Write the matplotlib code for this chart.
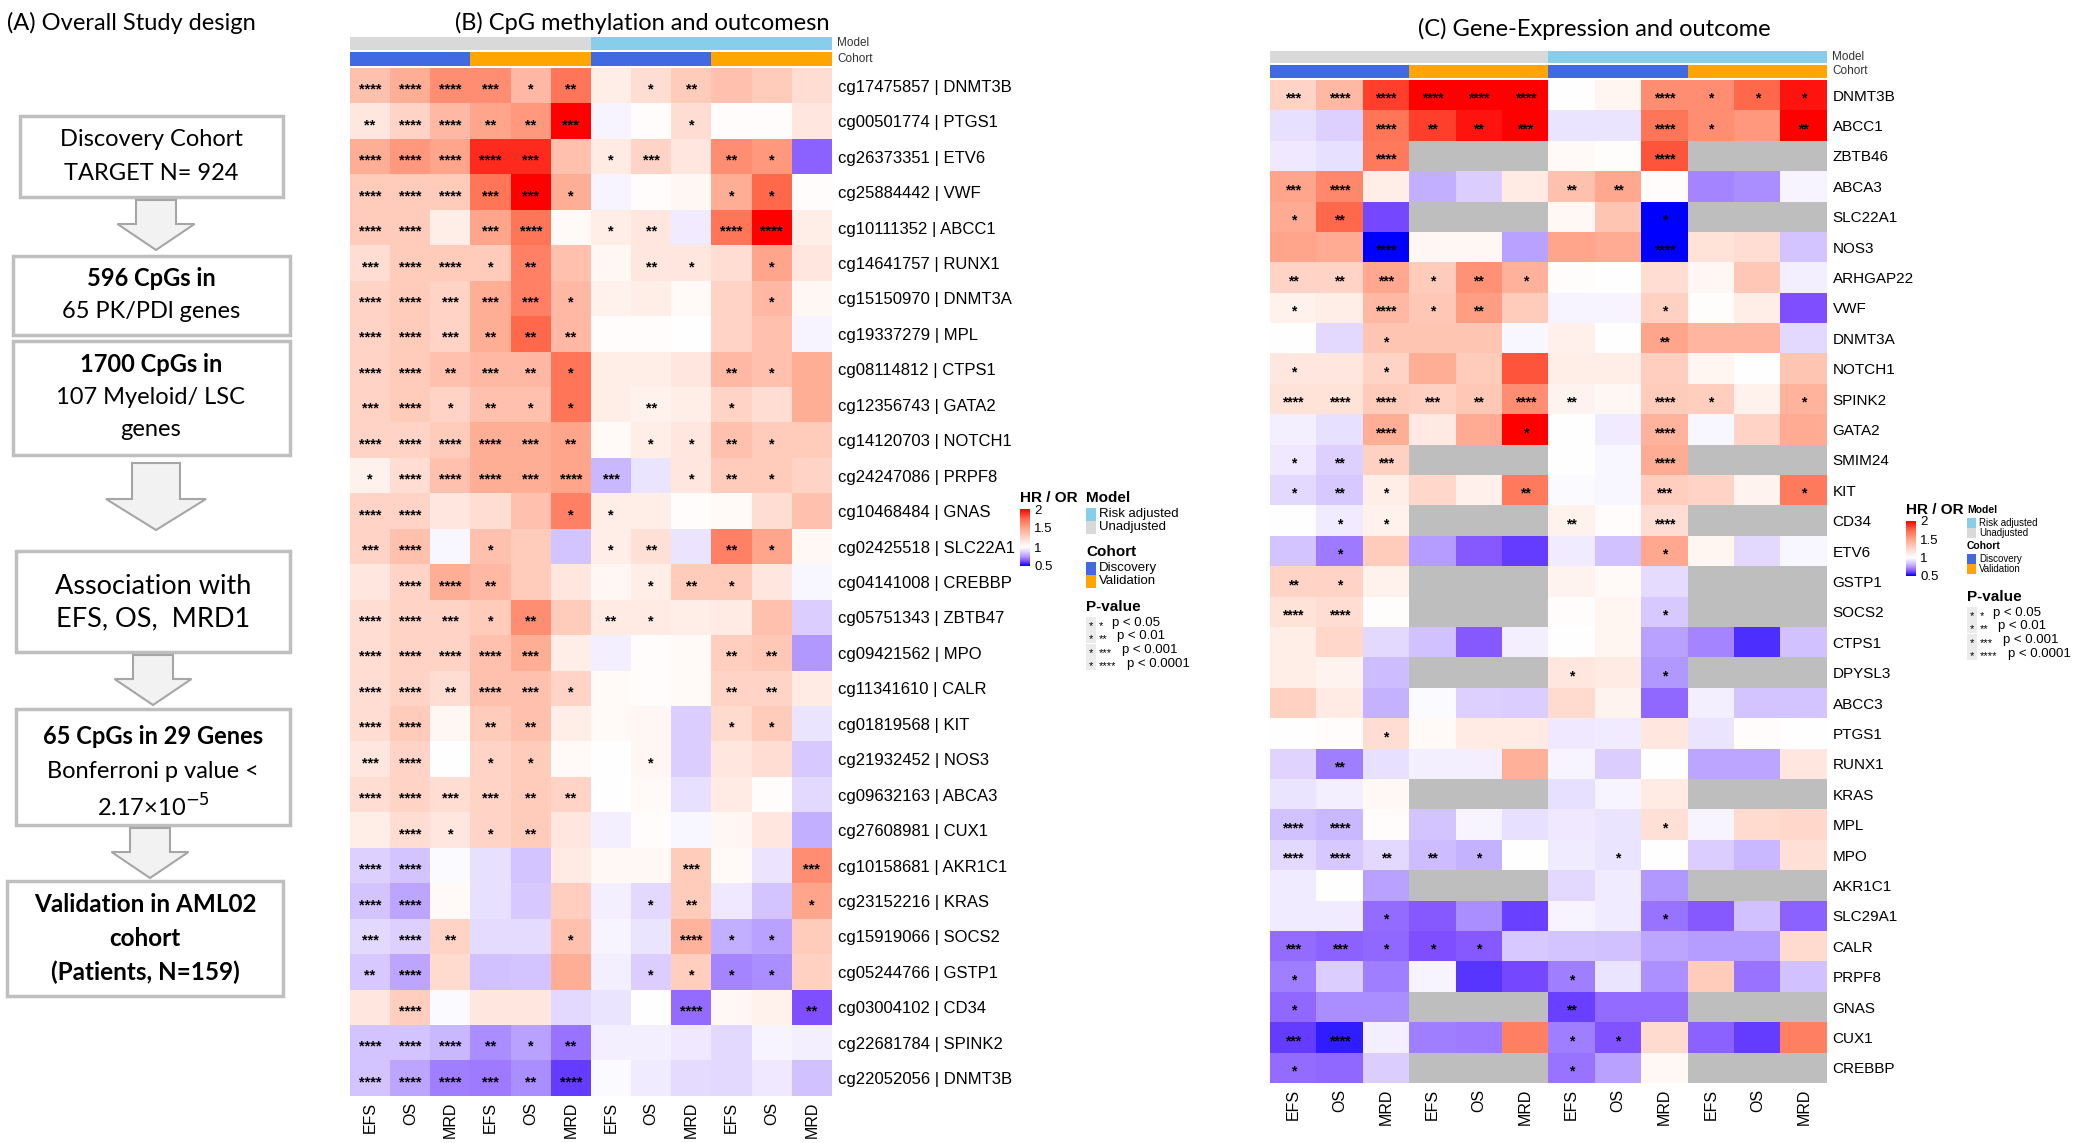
import numpy as np
import matplotlib
matplotlib.use("Agg")
import matplotlib.pyplot as plt
from matplotlib.colors import LinearSegmentedColormap, Normalize, ListedColormap
from matplotlib.patches import Rectangle, FancyArrow
from matplotlib.transforms import offset_copy
import matplotlib.cm as cm

W, H = 2076, 1143
plt.rcParams['font.family'] = ['Liberation Sans', 'DejaVu Sans']
nan = np.nan

# ---- data -------------------------------------------------------------
outcomes = ["EFS", "OS", "MRD"] * 4
model_groups = ["Unadjusted"] * 6 + ["Risk adjusted"] * 6
cohort_groups = (["Discovery"] * 3 + ["Validation"] * 3) * 2

b_rows = ["cg17475857 | DNMT3B", "cg00501774 | PTGS1", "cg26373351 | ETV6",
          "cg25884442 | VWF", "cg10111352 | ABCC1", "cg14641757 | RUNX1",
          "cg15150970 | DNMT3A", "cg19337279 | MPL", "cg08114812 | CTPS1",
          "cg12356743 | GATA2", "cg14120703 | NOTCH1", "cg24247086 | PRPF8",
          "cg10468484 | GNAS", "cg02425518 | SLC22A1", "cg04141008 | CREBBP",
          "cg05751343 | ZBTB47", "cg09421562 | MPO", "cg11341610 | CALR",
          "cg01819568 | KIT", "cg21932452 | NOS3", "cg09632163 | ABCA3",
          "cg27608981 | CUX1", "cg10158681 | AKR1C1", "cg23152216 | KRAS",
          "cg15919066 | SOCS2", "cg05244766 | GSTP1", "cg03004102 | CD34",
          "cg22681784 | SPINK2", "cg22052056 | DNMT3B"]

b_hr = [
    [1.35, 1.45, 1.60, 1.60, 1.40, 1.70, 1.10, 1.20, 1.30, 1.35, 1.30, 1.20],
    [1.15, 1.25, 1.40, 1.50, 1.55, 2.00, 0.97, 1.02, 1.20, 1.02, 1.02, 1.15],
    [1.45, 1.55, 1.50, 1.90, 1.90, 1.35, 1.12, 1.25, 1.15, 1.60, 1.55, 0.66],
    [1.30, 1.30, 1.30, 1.70, 2.00, 1.45, 0.97, 1.02, 1.05, 1.45, 1.75, 1.02],
    [1.30, 1.30, 1.10, 1.50, 1.70, 1.03, 1.10, 1.15, 0.95, 1.70, 2.00, 1.10],
    [1.20, 1.30, 1.30, 1.30, 1.65, 1.35, 1.05, 1.15, 1.15, 1.20, 1.50, 1.15],
    [1.25, 1.30, 1.25, 1.45, 1.65, 1.40, 1.08, 1.10, 1.03, 1.25, 1.40, 1.05],
    [1.25, 1.30, 1.25, 1.45, 1.75, 1.40, 1.02, 1.02, 1.00, 1.25, 1.35, 0.97],
    [1.25, 1.30, 1.35, 1.40, 1.40, 1.70, 1.10, 1.10, 1.15, 1.40, 1.35, 1.45],
    [1.25, 1.30, 1.25, 1.35, 1.35, 1.70, 1.10, 1.08, 1.10, 1.25, 1.20, 1.45],
    [1.25, 1.25, 1.30, 1.45, 1.45, 1.50, 1.03, 1.10, 1.15, 1.35, 1.30, 1.30],
    [1.08, 1.20, 1.35, 1.45, 1.45, 1.50, 0.82, 0.93, 1.15, 1.30, 1.30, 1.25],
    [1.25, 1.25, 1.15, 1.20, 1.35, 1.65, 1.10, 1.10, 1.02, 1.03, 1.20, 1.35],
    [1.25, 1.35, 0.98, 1.35, 1.30, 0.85, 1.10, 1.18, 0.93, 1.65, 1.50, 1.04],
    [1.15, 1.25, 1.45, 1.40, 1.30, 1.15, 1.05, 1.10, 1.30, 1.30, 1.15, 0.98],
    [1.20, 1.25, 1.25, 1.30, 1.60, 1.30, 1.12, 1.12, 1.10, 1.12, 1.35, 0.87],
    [1.20, 1.25, 1.25, 1.35, 1.45, 1.10, 0.96, 1.02, 1.03, 1.28, 1.32, 0.75],
    [1.20, 1.25, 1.20, 1.35, 1.35, 1.25, 1.03, 1.02, 1.03, 1.25, 1.25, 1.12],
    [1.20, 1.30, 1.05, 1.30, 1.35, 1.10, 1.03, 1.05, 0.87, 1.22, 1.30, 0.93],
    [1.15, 1.25, 1.00, 1.25, 1.30, 1.03, 1.00, 1.05, 0.87, 1.15, 1.20, 0.86],
    [1.20, 1.25, 1.20, 1.25, 1.30, 1.25, 1.00, 1.03, 0.92, 1.12, 1.02, 0.90],
    [1.10, 1.20, 1.15, 1.25, 1.30, 1.15, 0.96, 1.02, 0.98, 1.05, 1.15, 0.80],
    [0.88, 0.85, 0.99, 0.92, 0.85, 1.12, 1.04, 1.04, 1.30, 1.03, 0.93, 1.60],
    [0.85, 0.78, 1.03, 0.92, 0.86, 1.28, 0.96, 0.90, 1.30, 0.94, 0.85, 1.50],
    [0.90, 0.88, 1.25, 0.91, 0.91, 1.35, 0.97, 0.93, 1.42, 0.80, 0.77, 1.30],
    [0.86, 0.78, 1.22, 0.84, 0.85, 1.45, 0.96, 0.87, 1.28, 0.72, 0.73, 1.27],
    [1.15, 1.28, 0.99, 1.15, 1.15, 0.90, 0.93, 1.00, 0.68, 1.04, 1.08, 0.63],
    [0.85, 0.85, 0.82, 0.73, 0.77, 0.69, 0.96, 0.96, 0.94, 0.90, 0.97, 0.96],
    [0.85, 0.78, 0.71, 0.70, 0.73, 0.60, 0.99, 0.95, 0.91, 0.90, 0.94, 0.84],
]

# number of stars (0 = not significant)
b_sig = [
    [4, 4, 4, 3, 1, 2, 0, 1, 2, 0, 0, 0],
    [2, 4, 4, 2, 2, 3, 0, 0, 1, 0, 0, 0],
    [4, 4, 4, 4, 3, 0, 1, 3, 0, 2, 1, 0],
    [4, 4, 4, 3, 3, 1, 0, 0, 0, 1, 1, 0],
    [4, 4, 0, 3, 4, 0, 1, 2, 0, 4, 4, 0],
    [3, 4, 4, 1, 2, 0, 0, 2, 1, 0, 1, 0],
    [4, 4, 3, 3, 3, 1, 0, 0, 0, 0, 1, 0],
    [4, 4, 3, 2, 2, 2, 0, 0, 0, 0, 0, 0],
    [4, 4, 2, 3, 2, 1, 0, 0, 0, 2, 1, 0],
    [3, 4, 1, 2, 1, 1, 0, 2, 0, 1, 0, 0],
    [4, 4, 4, 4, 3, 2, 0, 1, 1, 2, 1, 0],
    [1, 4, 4, 4, 3, 4, 3, 0, 1, 2, 1, 0],
    [4, 4, 0, 0, 0, 1, 1, 0, 0, 0, 0, 0],
    [3, 4, 0, 1, 0, 0, 1, 2, 0, 2, 1, 0],
    [0, 4, 4, 2, 0, 0, 0, 1, 2, 1, 0, 0],
    [4, 4, 3, 1, 2, 0, 2, 1, 0, 0, 0, 0],
    [4, 4, 4, 4, 3, 0, 0, 0, 0, 2, 2, 0],
    [4, 4, 2, 4, 3, 1, 0, 0, 0, 2, 2, 0],
    [4, 4, 0, 2, 2, 0, 0, 0, 0, 1, 1, 0],
    [3, 4, 0, 1, 1, 0, 0, 1, 0, 0, 0, 0],
    [4, 4, 3, 3, 2, 2, 0, 0, 0, 0, 0, 0],
    [0, 4, 1, 1, 2, 0, 0, 0, 0, 0, 0, 0],
    [4, 4, 0, 0, 0, 0, 0, 0, 3, 0, 0, 3],
    [4, 4, 0, 0, 0, 0, 0, 1, 2, 0, 0, 1],
    [3, 4, 2, 0, 0, 1, 0, 0, 4, 1, 1, 0],
    [2, 4, 0, 0, 0, 0, 0, 1, 1, 1, 1, 0],
    [0, 4, 0, 0, 0, 0, 0, 0, 4, 0, 0, 2],
    [4, 4, 4, 2, 1, 2, 0, 0, 0, 0, 0, 0],
    [4, 4, 4, 3, 2, 4, 0, 0, 0, 0, 0, 0],
]

c_rows = ["DNMT3B", "ABCC1", "ZBTB46", "ABCA3", "SLC22A1", "NOS3", "ARHGAP22",
          "VWF", "DNMT3A", "NOTCH1", "SPINK2", "GATA2", "SMIM24", "KIT", "CD34",
          "ETV6", "GSTP1", "SOCS2", "CTPS1", "DPYSL3", "ABCC3", "PTGS1", "RUNX1",
          "KRAS", "MPL", "MPO", "AKR1C1", "SLC29A1", "CALR", "PRPF8", "GNAS",
          "CUX1", "CREBBP"]

c_hr = [
    [1.25, 1.40, 1.85, 2.00, 2.00, 2.00, 1.00, 1.06, 1.60, 1.60, 1.75, 1.95],
    [0.92, 0.88, 1.70, 1.85, 1.95, 2.00, 0.93, 0.93, 1.70, 1.60, 1.55, 2.00],
    [0.94, 0.92, 1.68, nan, nan, nan, 1.03, 1.01, 1.80, nan, nan, nan],
    [1.50, 1.62, 1.10, 0.80, 0.87, 1.12, 1.35, 1.48, 1.02, 0.72, 0.73, 0.97],
    [1.47, 1.75, 0.62, nan, nan, nan, 1.04, 1.33, 0.50, nan, nan, nan],
    [1.50, 1.47, 0.50, 1.05, 1.05, 0.77, 1.50, 1.47, 0.50, 1.17, 1.20, 0.85],
    [1.25, 1.25, 1.48, 1.30, 1.58, 1.43, 1.01, 1.00, 1.20, 1.05, 1.32, 0.96],
    [1.08, 1.10, 1.40, 1.32, 1.53, 1.30, 0.97, 0.97, 1.27, 1.01, 1.10, 0.63],
    [1.00, 0.90, 1.33, 1.33, 1.33, 0.98, 1.09, 1.00, 1.50, 1.41, 1.41, 0.90],
    [1.15, 1.15, 1.25, 1.45, 1.30, 1.80, 1.10, 1.10, 1.28, 1.06, 1.00, 1.33],
    [1.17, 1.17, 1.30, 1.27, 1.32, 1.60, 1.07, 1.05, 1.30, 1.28, 1.08, 1.42],
    [0.96, 0.92, 1.45, 1.13, 1.47, 2.00, 1.00, 0.95, 1.42, 0.98, 1.25, 1.47],
    [0.94, 0.88, 1.27, nan, nan, nan, 1.00, 0.98, 1.46, nan, nan, nan],
    [0.90, 0.86, 1.10, 1.23, 1.09, 1.68, 0.99, 0.98, 1.28, 1.25, 1.07, 1.68],
    [1.00, 0.95, 1.08, nan, nan, nan, 1.08, 1.02, 1.20, nan, nan, nan],
    [0.85, 0.70, 1.30, 0.76, 0.65, 0.60, 0.95, 0.84, 1.48, 1.06, 0.90, 0.98],
    [1.25, 1.25, 1.08, nan, nan, nan, 1.07, 1.03, 0.91, nan, nan, nan],
    [1.17, 1.20, 1.01, nan, nan, nan, 1.02, 1.06, 0.86, nan, nan, nan],
    [1.10, 1.23, 0.90, 0.84, 0.65, 0.96, 1.00, 1.06, 0.77, 0.72, 0.58, 0.84],
    [1.10, 1.07, 0.83, nan, nan, nan, 1.15, 1.12, 0.75, nan, nan, nan],
    [1.27, 1.12, 0.81, 0.99, 0.88, 0.87, 1.22, 1.07, 0.67, 0.96, 0.85, 0.85],
    [1.00, 1.02, 1.20, 1.03, 1.12, 1.12, 0.94, 0.95, 1.15, 0.93, 1.02, 1.00],
    [0.89, 0.71, 0.92, 0.96, 0.96, 1.44, 0.97, 0.87, 1.00, 0.78, 0.78, 1.15],
    [0.93, 0.96, 1.04, nan, nan, nan, 0.92, 0.97, 1.12, nan, nan, nan],
    [0.84, 0.82, 1.02, 0.85, 0.97, 0.92, 0.94, 0.93, 1.18, 0.97, 1.22, 1.23],
    [0.90, 0.86, 0.90, 0.83, 0.81, 1.00, 0.95, 0.93, 1.00, 0.87, 0.82, 1.18],
    [0.95, 1.00, 0.77, nan, nan, nan, 0.90, 0.95, 0.75, nan, nan, nan],
    [0.95, 0.95, 0.68, 0.65, 0.73, 0.61, 0.97, 0.95, 0.69, 0.65, 0.84, 0.66],
    [0.68, 0.66, 0.67, 0.63, 0.65, 0.86, 0.85, 0.84, 0.78, 0.76, 0.76, 1.22],
    [0.71, 0.87, 0.71, 0.97, 0.59, 0.62, 0.71, 0.93, 0.74, 1.30, 0.69, 0.84],
    [0.67, 0.73, 0.73, nan, nan, nan, 0.61, 0.68, 0.68, nan, nan, nan],
    [0.60, 0.55, 0.96, 0.71, 0.70, 1.66, 0.71, 0.64, 1.22, 0.66, 0.60, 1.66],
    [0.68, 0.67, 0.87, nan, nan, nan, 0.69, 0.77, 1.04, nan, nan, nan],
]

c_sig = [
    [3, 4, 4, 4, 4, 4, 0, 0, 4, 1, 1, 1],
    [0, 0, 4, 2, 2, 3, 0, 0, 4, 1, 0, 2],
    [0, 0, 4, 0, 0, 0, 0, 0, 4, 0, 0, 0],
    [3, 4, 0, 0, 0, 0, 2, 2, 0, 0, 0, 0],
    [1, 2, 0, 0, 0, 0, 0, 0, 1, 0, 0, 0],
    [0, 0, 4, 0, 0, 0, 0, 0, 4, 0, 0, 0],
    [2, 2, 3, 1, 2, 1, 0, 0, 0, 0, 0, 0],
    [1, 0, 4, 1, 2, 0, 0, 0, 1, 0, 0, 0],
    [0, 0, 1, 0, 0, 0, 0, 0, 2, 0, 0, 0],
    [1, 0, 1, 0, 0, 0, 0, 0, 0, 0, 0, 0],
    [4, 4, 4, 3, 2, 4, 2, 0, 4, 1, 0, 1],
    [0, 0, 4, 0, 0, 1, 0, 0, 4, 0, 0, 0],
    [1, 2, 3, 0, 0, 0, 0, 0, 4, 0, 0, 0],
    [1, 2, 1, 0, 0, 2, 0, 0, 3, 0, 0, 1],
    [0, 1, 1, 0, 0, 0, 2, 0, 4, 0, 0, 0],
    [0, 1, 0, 0, 0, 0, 0, 0, 1, 0, 0, 0],
    [2, 1, 0, 0, 0, 0, 0, 0, 0, 0, 0, 0],
    [4, 4, 0, 0, 0, 0, 0, 0, 1, 0, 0, 0],
    [0, 0, 0, 0, 0, 0, 0, 0, 0, 0, 0, 0],
    [0, 0, 0, 0, 0, 0, 1, 0, 1, 0, 0, 0],
    [0, 0, 0, 0, 0, 0, 0, 0, 0, 0, 0, 0],
    [0, 0, 1, 0, 0, 0, 0, 0, 0, 0, 0, 0],
    [0, 2, 0, 0, 0, 0, 0, 0, 0, 0, 0, 0],
    [0, 0, 0, 0, 0, 0, 0, 0, 0, 0, 0, 0],
    [4, 4, 0, 0, 0, 0, 0, 0, 1, 0, 0, 0],
    [4, 4, 2, 2, 1, 0, 0, 1, 0, 0, 0, 0],
    [0, 0, 0, 0, 0, 0, 0, 0, 0, 0, 0, 0],
    [0, 0, 1, 0, 0, 0, 0, 0, 1, 0, 0, 0],
    [3, 3, 1, 1, 1, 0, 0, 0, 0, 0, 0, 0],
    [1, 0, 0, 0, 0, 0, 1, 0, 0, 0, 0, 0],
    [1, 0, 0, 0, 0, 0, 2, 0, 0, 0, 0, 0],
    [3, 4, 0, 0, 0, 0, 1, 1, 0, 0, 0, 0],
    [1, 0, 0, 0, 0, 0, 1, 0, 0, 0, 0, 0],
]

p_levels = ["0.05", "0.01", "0.001", "0.0001"]
hr_ticks = [0.5, 1, 1.5, 2]

# ---- styling ----------------------------------------------------------
model_colors = {"Risk adjusted": "#87CEEB", "Unadjusted": "#D9D9D9"}
cohort_colors = {"Discovery": "#4169E1", "Validation": "#FFA500"}

hr_cmap = LinearSegmentedColormap.from_list("hr", [
    (0.0, "#0000FF"), (0.0833, "#7D4CFF"), (0.1667, "#B39AFF"),
    (0.25, "#DDD0FF"), (0.3333, "#FFFFFF"), (0.5, "#FFD5C7"),
    (0.6667, "#FFA58B"), (0.8333, "#FF6A4C"), (1.0, "#FF0000")])
hr_cmap.set_bad("#BEBEBE")
hr_norm = Normalize(0.5, 2.0)

fig = plt.figure(figsize=(W / 100, H / 100), dpi=100)
bg = fig.add_axes([0, 0, 1, 1])
bg.set_xlim(0, W)
bg.set_ylim(H, 0)
bg.axis("off")


def px_axes(left, top, width, height):
    return fig.add_axes([left / W, 1 - (top + height) / H, width / W, height / H])


def anno_bar(left, top, width, height, groups, colors):
    ax = px_axes(left, top, width, height)
    keys = list(colors)
    codes = [[keys.index(g) for g in groups]]
    ax.imshow(codes, cmap=ListedColormap([colors[k] for k in keys]),
              vmin=-0.5, vmax=len(keys) - 0.5, aspect="auto",
              interpolation="nearest", extent=(0, len(groups), 1, 0))
    ax.axis("off")
    return ax


def heatmap(left, top, right, bottom, vals, sig, rows, bars, row_fs, star_fs, col_fs):
    vals = np.array(vals, dtype=float)
    nr, nc = vals.shape
    ax = px_axes(left, top, right - left, bottom - top)
    ax.imshow(np.ma.masked_invalid(vals), cmap=hr_cmap, norm=hr_norm,
              aspect="auto", interpolation="nearest", extent=(0, nc, nr, 0))
    tr = offset_copy(ax.transData, fig=fig, y=-0.55 * star_fs, units="points")
    for i, srow in enumerate(sig):
        for j, n in enumerate(srow):
            if n:
                ax.text(j + 0.5, i + 0.5, "*" * n, ha="center", va="baseline",
                        fontsize=star_fs, fontweight="bold", transform=tr)
    ax.set_xticks(np.arange(nc) + 0.5, outcomes, rotation=90, fontsize=col_fs)
    ax.yaxis.tick_right()
    ax.set_yticks(np.arange(nr) + 0.5, rows, fontsize=row_fs)
    ax.tick_params(length=0, pad=4)
    for s in ax.spines.values():
        s.set_visible(False)
    (mt, mh), (ct, ch) = bars
    anno_bar(left, mt, right - left, mh, model_groups, model_colors)
    anno_bar(left, ct, right - left, ch, cohort_groups, cohort_colors)
    bg.text(right + 5, mt + mh / 2, "Model", fontsize=8.5, va="center", color="#333333")
    bg.text(right + 5, ct + ch / 2, "Cohort", fontsize=8.5, va="center", color="#333333")


def legend(xc, xg, y_title, cb_top, cb_bot, grp_y, p_y, small_fs, small_title_fs, key_w, key_h):
    bg.text(xc, y_title, "HR / OR", fontsize=11, fontweight="bold", va="center")
    cax = px_axes(xc, cb_top, 10, cb_bot - cb_top)
    cb = fig.colorbar(cm.ScalarMappable(norm=hr_norm, cmap=hr_cmap), cax=cax, ticks=hr_ticks)
    cb.ax.set_yticklabels([f"{t:g}" for t in hr_ticks])
    cb.outline.set_visible(False)
    cb.ax.tick_params(length=0, labelsize=9.5, pad=3)
    for title, colors, y0 in [("Model", model_colors, grp_y[0]), ("Cohort", cohort_colors, grp_y[1])]:
        bg.text(xg, y0, title, fontsize=small_title_fs, fontweight="bold", va="center")
        for k, (name, col) in enumerate(colors.items()):
            yy = y0 + (k + 1) * key_h + 3
            bg.add_patch(Rectangle((xg, yy - key_h / 2), key_w, key_h, fc=col, ec="none"))
            bg.text(xg + key_w + 3, yy, name, fontsize=small_fs, va="center")
    bg.text(xg, p_y, "P-value", fontsize=11, fontweight="bold", va="center")
    for k, lvl in enumerate(p_levels):
        yy = p_y + 16 + k * 13.5
        bg.add_patch(Rectangle((xg, yy - 6.5), 10, 13, fc="#EBEBEB", ec="none"))
        bg.text(xg + 5, yy + 3, "*", fontsize=8, ha="center", va="center")
        bg.text(xg + 13, yy + 3, "*" * (k + 1), fontsize=8, va="center")
        bg.text(xg + 13 + 5 * (k + 1) + 8, yy, f"p < {lvl}", fontsize=9.5, va="center")


# ---- panel A: study design --------------------------------------------
A_FONT = ["Lato", "DejaVu Sans"]
box_ec = "#BFBFBF"
arrow_fc, arrow_ec = "#F2F2F2", "#A6A6A6"

bg.text(7, 23, "(A) Overall Study design", fontsize=17, family=A_FONT, va="center")

boxes = [(20, 116, 263, 81), (13, 256, 277, 79), (13, 341, 277, 114),
         (16, 551, 274, 101), (16, 709, 274, 116), (7, 881, 276, 115)]
for x, y, w, h in boxes:
    bg.add_patch(Rectangle((x, y), w, h, fc="white", ec=box_ec, lw=2.5))

arrows = [(156, 200, 50, 40, 77, 26), (156, 463, 67, 48, 100, 31),
          (153, 655, 50, 40, 77, 26), (150, 828, 50, 40, 77, 26)]
for x, y, ln, sw, hw, hl in arrows:
    bg.add_patch(FancyArrow(x, y, 0, ln, width=sw, head_width=hw, head_length=hl,
                            length_includes_head=True, fc=arrow_fc, ec=arrow_ec, lw=1.5))

box_lines = [
    (151, 140, "Discovery Cohort", "normal", 17),
    (151, 173, "TARGET N= 924", "normal", 17),
    (151, 278, "596 CpGs in", "bold", 17),
    (151, 311, "65 PK/PDl genes", "normal", 17),
    (151, 365, "1700 CpGs in", "bold", 17),
    (151, 398, "107 Myeloid/ LSC", "normal", 17),
    (151, 430, "genes", "normal", 17),
    (153, 586, "Association with", "normal", 19.5),
    (153, 619, "EFS, OS,  MRD1", "normal", 19.5),
    (153, 736, "65 CpGs in 29 Genes", "bold", 17),
    (153, 772, "Bonferroni p value <", "normal", 17),
    (153, 807, "2.17×10$^{-5}$", "normal", 17),
    (145, 905, "Validation in AML02", "bold", 17.5),
    (145, 938, "cohort", "bold", 17.5),
    (145, 972, "(Patients, N=159)", "bold", 17.5),
]
for x, y, txt, wt, fs in box_lines:
    bg.text(x, y, txt, fontsize=fs, fontweight=wt, family=A_FONT, ha="center", va="center")

# ---- panel B: CpG methylation ----------------------------------------
bg.text(642, 23, "(B) CpG methylation and outcomesn", fontsize=17, family=A_FONT,
        ha="center", va="center")
heatmap(350, 68, 832, 1096, b_hr, b_sig, b_rows, ((37, 13), (52, 14)),
        row_fs=12, star_fs=10.5, col_fs=11.5)
legend(1020, 1086, 498, 509, 566, (498, 552), 607, 9.5, 11, 10, 13)

# ---- panel C: gene expression ------------------------------------------
bg.text(1594, 29, "(C) Gene-Expression and outcome", fontsize=17, family=A_FONT,
        ha="center", va="center")
heatmap(1270, 80, 1827, 1083, c_hr, c_sig, c_rows, ((51, 12), (65, 13)),
        row_fs=11, star_fs=10, col_fs=11.5)
legend(1906, 1967, 510, 521, 576, (510, 546), 597, 7, 7.5, 9, 10)

fig.savefig("out.png", dpi=100)
